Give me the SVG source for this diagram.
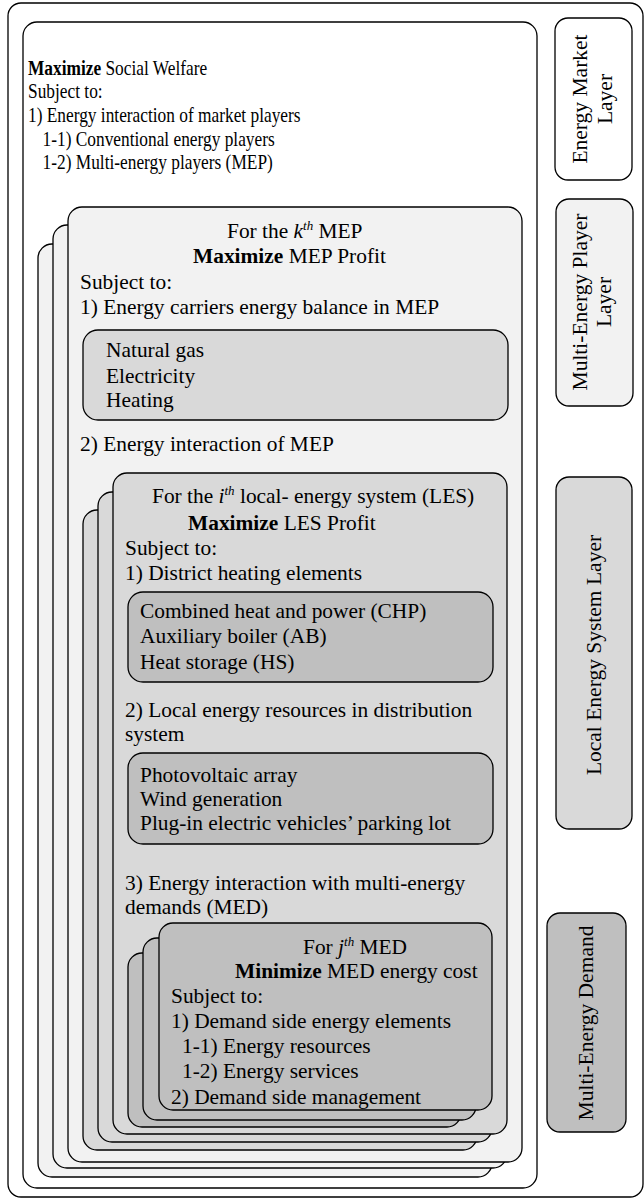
<svg xmlns="http://www.w3.org/2000/svg" width="644" height="1198" viewBox="0 0 644 1198">
<style>
.box{stroke:#000;stroke-width:1.3}
.w{fill:#fff}.g1{fill:#f2f2f2}.g2{fill:#d9d9d9}.g3{fill:#bfbfbf}
text{font-family:"Liberation Serif","Times New Roman",serif;font-size:21.4px;fill:#000}
.lbl{font-size:21.5px;text-anchor:middle}
.b{font-weight:bold}
.i{font-style:italic}
.sup{font-size:13px;font-style:italic}
</style>
<rect width="644" height="1198" fill="#fff"/>
<g id="outer-frame"><rect class="box w" x="8" y="3" width="635" height="1194" rx="13"/></g>
<g id="energy-market">
<rect class="box w" x="23" y="22" width="514" height="1166" rx="14"/>
<g transform="translate(28,0) scale(0.81,1)">
<text x="0" y="75"><tspan class="b">Maximize</tspan> Social Welfare</text>
<text x="0" y="98">Subject to:</text>
<text x="0" y="122">1) Energy interaction of market players</text>
<text x="18" y="146">1-1) Conventional energy players</text>
<text x="18" y="169">1-2) Multi-energy players (MEP)</text>
</g>
</g>
<g id="mep">
<rect class="box g1" x="38" y="244" width="454" height="933" rx="14"/>
<rect class="box g1" x="53" y="225" width="454" height="943" rx="14"/>
<rect class="box g1" x="68" y="207" width="454" height="955" rx="14"/>
<text x="227" y="238">For the <tspan class="i">k</tspan><tspan class="sup" dy="-8">th</tspan><tspan dy="8"> MEP</tspan></text>
<text x="193" y="263"><tspan class="b">Maximize</tspan> MEP Profit</text>
<text x="80" y="289">Subject to:</text>
<text x="80" y="314">1) Energy carriers energy balance in MEP</text>
<text x="80" y="451">2) Energy interaction of MEP</text>
</g>
<g id="mep-carriers">
<rect class="box g2" x="83" y="330" width="425" height="90" rx="15"/>
<text x="106" y="357">Natural gas</text>
<text x="106" y="383">Electricity</text>
<text x="106" y="407">Heating</text>
</g>
<g id="les">
<rect class="box g2" x="83" y="510" width="394" height="640" rx="14"/>
<rect class="box g2" x="98" y="492" width="394" height="650" rx="14"/>
<rect class="box g2" x="113" y="473" width="394" height="661" rx="14"/>
<text x="152" y="503">For the <tspan class="i">i</tspan><tspan class="sup" dy="-8">th</tspan><tspan dy="8"> local- energy system (LES)</tspan></text>
<text x="188" y="530"><tspan class="b">Maximize</tspan> LES Profit</text>
<text x="125" y="555">Subject to:</text>
<text x="125" y="580">1) District heating elements</text>
<text x="125" y="717">2) Local energy resources in distribution</text>
<text x="125" y="741">system</text>
<text x="125" y="890">3) Energy interaction with multi-energy</text>
<text x="125" y="914">demands (MED)</text>
</g>
<g id="les-heating">
<rect class="box g3" x="128" y="592" width="365" height="90" rx="15"/>
<text x="140" y="618">Combined heat and power (CHP)</text>
<text x="140" y="643">Auxiliary boiler (AB)</text>
<text x="140" y="669">Heat storage (HS)</text>
</g>
<g id="les-resources">
<rect class="box g3" x="128" y="753" width="365" height="91" rx="15"/>
<text x="140" y="782">Photovoltaic array</text>
<text x="140" y="806">Wind generation</text>
<text x="140" y="830">Plug-in electric vehicles’ parking lot</text>
</g>
<g id="med">
<rect class="box g3" x="128" y="953" width="333" height="174" rx="14"/>
<rect class="box g3" x="143" y="938" width="333" height="182" rx="14"/>
<rect class="box g3" x="159" y="923" width="333" height="187" rx="14"/>
<text x="303" y="954">For <tspan class="i">j</tspan><tspan class="sup" dy="-8">th</tspan><tspan dy="8"> MED</tspan></text>
<text x="235" y="978"><tspan class="b">Minimize</tspan> MED energy cost</text>
<text x="171" y="1003">Subject to:</text>
<text x="171" y="1028">1) Demand side energy elements</text>
<text x="182" y="1053">1-1) Energy resources</text>
<text x="182" y="1078">1-2) Energy services</text>
<text x="171" y="1104">2) Demand side management</text>
</g>
<g id="label-energy-market">
<rect class="box w" x="555" y="18" width="77" height="162" rx="13"/>
<text class="lbl" transform="translate(587,99) rotate(-90)">Energy Market</text>
<text class="lbl" transform="translate(612,99) rotate(-90)">Layer</text>
</g>
<g id="label-mep">
<rect class="box g1" x="556" y="199" width="77" height="207" rx="13"/>
<text class="lbl" transform="translate(587,302) rotate(-90)">Multi-Energy Player</text>
<text class="lbl" transform="translate(611,302) rotate(-90)">Layer</text>
</g>
<g id="label-les">
<rect class="box g2" x="556" y="477" width="76" height="352" rx="13"/>
<text class="lbl" transform="translate(601,655) rotate(-90)">Local Energy System Layer</text>
</g>
<g id="label-med">
<rect class="box g3" x="547" y="913" width="79" height="219" rx="13"/>
<text class="lbl" transform="translate(593,1023) rotate(-90)">Multi-Energy Demand</text>
</g>
<g id="connectors"></g>
</svg>
